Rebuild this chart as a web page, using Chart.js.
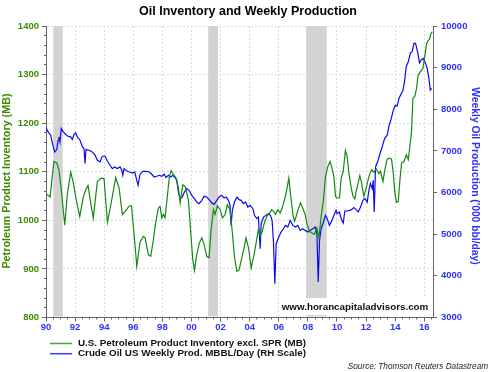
<!DOCTYPE html>
<html>
<head>
<meta charset="utf-8">
<script src="https://cdn.jsdelivr.net/npm/chart.js@4.4.0/dist/chart.umd.min.js"></script>
<style>
html, body { margin: 0; padding: 0; background: #fff; }
</style>
</head>
<body>
<canvas id="myChart" width="496" height="372"></canvas>
<script>
// x axis ticks (years) and their labels
const xTickYears = [1990, 1992, 1994, 1996, 1998, 2000, 2002, 2004, 2006, 2008, 2010, 2012, 2014, 2016];
const xTickLabels = ['90', '92', '94', '96', '98', '00', '02', '04', '06', '08', '10', '12', '14', '16'];
const invTicks = [800, 900, 1000, 1100, 1200, 1300, 1400];
const prodTicks = [3000, 4000, 5000, 6000, 7000, 8000, 9000, 10000];

// recession bars
const recessionStart = [1990.5, 2001.15, 2007.88];
const recessionEnd = [1991.15, 2001.82, 2009.3];

// U.S. petroleum product inventory excl. SPR (MB)
const invYears = [1990.05, 1990.28, 1990.43, 1990.55, 1990.74, 1990.89, 1991.05, 1991.29, 1991.46, 1991.70, 1991.88,
  1992.08, 1992.32, 1992.57, 1992.73, 1992.89, 1993.07, 1993.25, 1993.53, 1993.80, 1993.99,
  1994.22, 1994.56, 1994.79, 1995.02, 1995.25, 1995.43, 1995.71, 1995.87, 1996.05, 1996.24, 1996.46, 1996.69, 1996.81,
  1997.04, 1997.20, 1997.38, 1997.50, 1997.72, 1997.84, 1997.96, 1998.07, 1998.18, 1998.34, 1998.48, 1998.60, 1998.76, 1998.94,
  1999.10, 1999.22, 1999.40, 1999.56, 1999.79, 1999.95, 2000.09, 2000.20, 2000.36, 2000.54, 2000.71, 2000.87,
  2001.05, 2001.21, 2001.35, 2001.51, 2001.62, 2001.78, 2001.97, 2002.13, 2002.31, 2002.47, 2002.65, 2002.81, 2002.95,
  2003.12, 2003.27, 2003.48, 2003.64, 2003.75, 2003.94, 2004.10, 2004.26, 2004.44, 2004.60, 2004.72, 2004.86,
  2005.01, 2005.18, 2005.36, 2005.52, 2005.66, 2005.77, 2005.94, 2006.09, 2006.23, 2006.39, 2006.55, 2006.69, 2006.80, 2006.97,
  2007.08, 2007.19, 2007.33, 2007.49, 2007.65, 2007.81, 2007.95, 2008.11, 2008.29, 2008.45, 2008.62, 2008.76, 2008.91,
  2009.07, 2009.21, 2009.37, 2009.53, 2009.67, 2009.79, 2009.90, 2010.01, 2010.17, 2010.29, 2010.43, 2010.58, 2010.70, 2010.82,
  2011.00, 2011.11, 2011.23, 2011.34, 2011.46, 2011.57, 2011.69, 2011.85, 2012.01, 2012.19, 2012.37, 2012.54, 2012.70, 2012.88, 2012.99,
  2013.16, 2013.29, 2013.45, 2013.61, 2013.75, 2013.87, 2013.98, 2014.09, 2014.21, 2014.33, 2014.44, 2014.61, 2014.77, 2014.90,
  2015.01, 2015.12, 2015.22, 2015.36, 2015.47, 2015.58, 2015.74, 2015.91, 2016.05, 2016.16, 2016.27, 2016.36, 2016.46, 2016.55];
const invValues = [1054, 1048, 1090, 1121, 1118, 1104, 1063, 990, 1053, 1099, 1077,
  1042, 1008, 1049, 1063, 1072, 1036, 1005, 1080, 1087, 1086,
  996, 1049, 1088, 1067, 1012, 1018, 1029, 1030, 974, 905, 955, 967, 964,
  929, 926, 960, 988, 1025, 1029, 1005, 1012, 1005, 1049, 1090, 1102, 1094, 1087,
  1067, 1036, 1073, 1070, 1042, 974, 919, 897, 929, 953, 964, 950,
  926, 923, 981, 1022, 1012, 1030, 1022, 1005, 1012, 1032, 1022, 974, 926,
  895, 898, 926, 947, 964, 940, 902, 923, 953, 981, 967, 977,
  995, 1008, 1015, 1022, 1018, 1012, 1022, 1015, 1025, 1042, 1063, 1087, 1056, 1012,
  998, 1008, 1022, 1036, 1025, 1012, 991, 977, 974, 971, 984, 964, 1008,
  1042, 1090, 1111, 1121, 1106, 1090, 1049, 1046, 1046, 1087, 1101, 1144, 1131, 1097,
  1063, 1049, 1044, 1063, 1077, 1092, 1077, 1049, 1067, 1090, 1104, 1099, 1106, 1096, 1101,
  1080, 1104, 1126, 1128, 1126, 1097, 1056, 1037, 1039, 1084, 1118, 1121, 1135, 1125,
  1152, 1181, 1251, 1256, 1272, 1299, 1306, 1313, 1340, 1364, 1370, 1373, 1385, 1388];

// Crude oil US weekly production ('000 bbl/day)
const prodYears = [1990.00, 1990.14, 1990.32, 1990.50, 1990.60, 1990.74, 1990.83, 1990.89, 1990.96, 1991.05, 1991.19, 1991.35,
  1991.51, 1991.70, 1991.81, 1991.93, 1992.04, 1992.15, 1992.34, 1992.50, 1992.61, 1992.68, 1992.75, 1992.96,
  1993.18, 1993.35, 1993.53, 1993.71, 1993.87, 1994.06, 1994.22, 1994.40, 1994.56, 1994.72, 1994.90,
  1995.09, 1995.21, 1995.28, 1995.36, 1995.55, 1995.73, 1995.94, 1996.10, 1996.21, 1996.33, 1996.46, 1996.65, 1996.88,
  1997.10, 1997.27, 1997.43, 1997.61, 1997.79, 1997.96, 1998.12, 1998.25, 1998.41, 1998.58, 1998.71, 1998.87, 1998.99,
  1999.10, 1999.22, 1999.37, 1999.51, 1999.68, 1999.83, 2000.02, 2000.20, 2000.36, 2000.52, 2000.71, 2000.87,
  2001.05, 2001.21, 2001.40, 2001.55, 2001.74, 2001.90, 2002.08, 2002.24, 2002.38, 2002.54, 2002.65, 2002.72, 2002.81, 2002.95,
  2003.12, 2003.27, 2003.41, 2003.57, 2003.71, 2003.87, 2004.03, 2004.22, 2004.33, 2004.49, 2004.60, 2004.72, 2004.79, 2004.95,
  2005.13, 2005.29, 2005.43, 2005.54, 2005.63, 2005.73, 2005.82, 2006.00, 2006.16, 2006.32, 2006.46, 2006.62, 2006.78, 2006.97,
  2007.15, 2007.31, 2007.47, 2007.65, 2007.81, 2008.00, 2008.16, 2008.34, 2008.50, 2008.62, 2008.71, 2008.80, 2008.91,
  2009.07, 2009.21, 2009.33, 2009.48, 2009.65, 2009.83, 2009.94, 2010.01, 2010.17, 2010.31, 2010.43, 2010.54, 2010.70, 2010.86,
  2011.00, 2011.16, 2011.32, 2011.46, 2011.62, 2011.78, 2011.92, 2012.08, 2012.19, 2012.30, 2012.42, 2012.49, 2012.56, 2012.65, 2012.83, 2012.99,
  2013.11, 2013.27, 2013.45, 2013.57, 2013.73, 2013.87, 2014.02, 2014.14, 2014.26, 2014.42, 2014.53, 2014.64, 2014.76, 2014.90,
  2015.05, 2015.17, 2015.29, 2015.40, 2015.54, 2015.67, 2015.81, 2015.93, 2016.09, 2016.20, 2016.32, 2016.41, 2016.50];
const prodValues = [7563, 7457, 7378, 7096, 6976, 7033, 7257, 7337, 7216, 7539, 7457, 7394,
  7353, 7337, 7274, 7402, 7433, 7337, 7257, 7096, 7057, 6697, 7033, 7017,
  6976, 6913, 6776, 6735, 6872, 6872, 6759, 6656, 6576, 6615, 6576,
  6615, 6535, 6415, 6576, 6518, 6494, 6470, 6494, 6336, 6175, 6435, 6511, 6511,
  6494, 6439, 6374, 6391, 6415, 6391, 6439, 6360, 6415, 6374, 6415, 6360, 6295,
  6013, 5855, 5893, 6013, 6095, 6054, 5934, 5855, 5773, 5734, 5814, 5910,
  5893, 5830, 5749, 5717, 5814, 5893, 5934, 5869, 5893, 5814, 5693, 5212, 5573, 5773,
  5893, 5830, 5814, 5734, 5773, 5653, 5693, 5613, 5453, 5373, 5412, 4651, 5253, 5412,
  5453, 5493, 5453, 5332, 4851, 3809, 4772, 4931, 5051, 5132, 5212, 5171, 5332, 5212,
  5171, 5212, 5092, 5132, 5092, 5051, 5092, 5132, 5171, 5012, 3850, 4851, 5132,
  5293, 5453, 5373, 5212, 5332, 5493, 5573, 5493, 5533, 5351, 5268, 5557, 5557, 5573,
  5590, 5638, 5590, 5533, 5653, 5814, 5855, 5773, 6054, 6215, 6095, 6295, 5533, 6615, 6776, 6976,
  7096, 7298, 7378, 7594, 7779, 7979, 8099, 8075, 8260, 8381, 8444, 8660, 9021, 9141,
  9358, 9382, 9583, 9583, 9382, 9117, 9198, 9222, 9102, 8982, 8742, 8460, 8500];

const FONT = '"Liberation Sans", Arial, Helvetica, sans-serif';
const GREEN = '#118a11';
const GREEN_TXT = '#3a8c00';
const BLUE = '#0a0af0';
const BLUE_TXT = '#3030ff';
const AXIS = '#666666';
const GRID = '#dadada';

const tickFont = { family: FONT, size: 9.5, weight: 'bold' };

function vText(ctx, text, x, y, rot, color, size) {
    ctx.save();
    ctx.translate(x, y);
    ctx.rotate(rot);
    ctx.font = 'bold ' + size + 'px ' + FONT;
    ctx.fillStyle = color;
    ctx.textAlign = 'center';
    ctx.textBaseline = 'middle';
    ctx.fillText(text, 0, 0);
    ctx.restore();
}

// recession shading, watermark, axis titles, legend, source
const extras = {
    id: 'extras',
    beforeDatasetsDraw(chart) {
        const { ctx, chartArea: a, scales: { x } } = chart;
        ctx.save();
        ctx.fillStyle = '#d3d3d3';
        for (let i = 0; i < recessionStart.length; i++) {
            const x1 = x.getPixelForValue(recessionStart[i]);
            const x2 = x.getPixelForValue(recessionEnd[i]);
            ctx.fillRect(x1, a.top, x2 - x1, a.bottom - a.top - 1);
        }
        ctx.restore();
    },
    afterDatasetsDraw(chart) {
        const ctx = chart.ctx;
        ctx.save();
        ctx.fillStyle = '#ffffff';
        ctx.fillRect(279, 298, 152, 17);
        ctx.font = 'bold 9.8px ' + FONT;
        ctx.fillStyle = '#111111';
        ctx.textAlign = 'center';
        ctx.textBaseline = 'middle';
        ctx.fillText('www.horancapitaladvisors.com', 355, 307);
        ctx.restore();
    },
    afterDraw(chart) {
        const ctx = chart.ctx;
        vText(ctx, 'Petroleum Product Inventory (MB)', 7.5, 181, -Math.PI / 2, GREEN_TXT, 10.8);
        vText(ctx, "Weekly Oil Production ('000 bbl/day)", 475, 176, Math.PI / 2, BLUE_TXT, 10.3);

        ctx.save();
        const items = [
            ['U.S. Petroleum Product Inventory excl. SPR (MB)', '#3caa3c', 343.5],
            ['Crude Oil US Weekly Prod. MBBL/Day (RH Scale)', '#3c3cff', 353.7]
        ];
        items.forEach(([label, color, y]) => {
            ctx.strokeStyle = color;
            ctx.lineWidth = 1.5;
            ctx.beginPath();
            ctx.moveTo(50, y);
            ctx.lineTo(72, y);
            ctx.stroke();
            ctx.font = 'bold 9.8px ' + FONT;
            ctx.fillStyle = '#111111';
            ctx.textAlign = 'left';
            ctx.textBaseline = 'middle';
            ctx.fillText(label, 78, y);
        });
        ctx.font = 'italic 8.2px ' + FONT;
        ctx.fillStyle = '#222222';
        ctx.textAlign = 'right';
        ctx.fillText('Source: Thomson Reuters Datastream', 488, 367);
        ctx.restore();
    }
};

new Chart(document.getElementById('myChart'), {
    type: 'line',
    data: {
        datasets: [{
            label: 'U.S. Petroleum Product Inventory excl. SPR (MB)',
            data: invYears.map((x, i) => ({ x: x, y: invValues[i] })),
            borderColor: GREEN,
            borderWidth: 1.2,
            pointRadius: 0,
            yAxisID: 'y'
        }, {
            label: 'Crude Oil US Weekly Prod. MBBL/Day (RH Scale)',
            data: prodYears.map((x, i) => ({ x: x, y: prodValues[i] })),
            borderColor: BLUE,
            borderWidth: 1.2,
            pointRadius: 0,
            yAxisID: 'y2'
        }]
    },
    options: {
        responsive: false,
        animation: false,
        layout: { padding: { left: 0, right: 0, top: 0, bottom: 38.5 } },
        plugins: {
            legend: { display: false },
            tooltip: { enabled: false },
            title: {
                display: true,
                text: 'Oil Inventory and Weekly Production',
                color: '#000000',
                font: { family: FONT, size: 12.5, weight: 'bold', lineHeight: 1.2 },
                padding: { top: 4, bottom: 7 }
            }
        },
        scales: {
            x: {
                type: 'linear', position: 'bottom', weight: 1, display: true,
                min: 1990, max: 2016.6,
                afterBuildTicks: s => { s.ticks = xTickYears.map(v => ({ value: v })); },
                afterFit: s => { s.height = 16; },
                ticks: { color: BLUE_TXT, font: tickFont, padding: 0, maxRotation: 0, autoSkip: false,
                    callback: (v, i) => xTickLabels[i] },
                grid: { color: GRID, tickColor: AXIS, tickLength: 4 },
                border: { color: AXIS, dash: [2, 2] }
            },
            xMinor: {
                type: 'linear', position: 'bottom', weight: 0, display: true,
                min: 1990, max: 2016.6,
                afterBuildTicks: s => {
                    const t = [];
                    for (let v = 1990; v <= 2016.5; v += 0.5) t.push({ value: v });
                    s.ticks = t;
                },
                afterFit: s => { s.height = 0; },
                ticks: { display: false },
                grid: { drawOnChartArea: false, tickColor: AXIS, tickLength: 2 },
                border: { display: false }
            },
            y: {
                type: 'linear', position: 'left', weight: 1, display: true,
                min: 800, max: 1400,
                afterBuildTicks: s => { s.ticks = invTicks.map(v => ({ value: v })); },
                afterFit: s => { s.width = 46; },
                ticks: { color: GREEN_TXT, font: tickFont, padding: 3, callback: v => String(v) },
                grid: { color: GRID, tickColor: AXIS, tickLength: 4 },
                border: { color: AXIS, dash: [2, 2] }
            },
            yMinor: {
                type: 'linear', position: 'left', weight: 0, display: true,
                min: 800, max: 1400,
                afterBuildTicks: s => {
                    const t = [];
                    for (let v = 800; v <= 1400; v += 20) t.push({ value: v });
                    s.ticks = t;
                },
                afterFit: s => { s.width = 0; },
                ticks: { display: false },
                grid: { drawOnChartArea: false, tickColor: AXIS, tickLength: 2 },
                border: { display: false }
            },
            y2: {
                type: 'linear', position: 'right', display: true,
                min: 3000, max: 10000,
                afterBuildTicks: s => { s.ticks = prodTicks.map(v => ({ value: v })); },
                afterFit: s => { s.width = 63; },
                ticks: { color: BLUE_TXT, font: tickFont, padding: 4, callback: v => String(v) },
                grid: { drawOnChartArea: false, tickColor: AXIS, tickLength: 4 },
                border: { color: AXIS }
            }
        }
    },
    plugins: [extras]
});
</script>
</body>
</html>
